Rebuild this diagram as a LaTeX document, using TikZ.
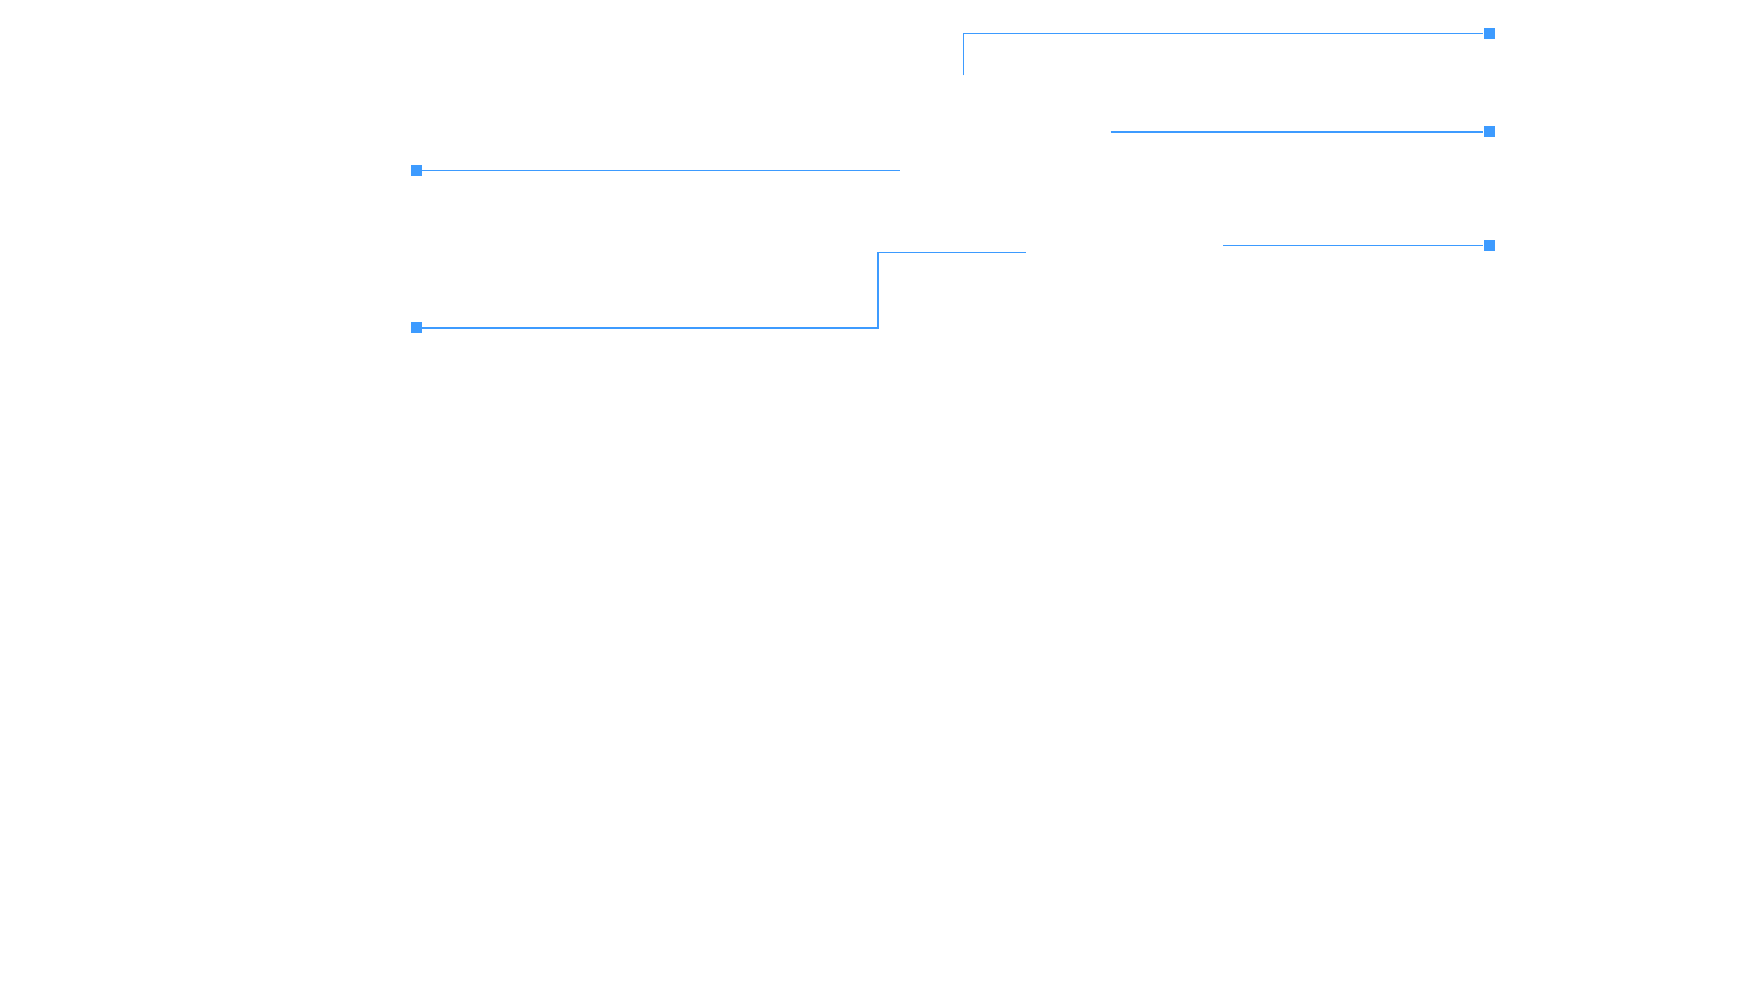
\documentclass[tikz,border=0pt]{standalone}
\definecolor{lineblue}{HTML}{3D9BFF}
\begin{document}
\begin{tikzpicture}[x=0.5pt,y=-0.5pt]
  \useasboundingbox (0,0) rectangle (1753,1000);
  \tikzset{leader/.style={draw=lineblue,line width=0.75pt},
    sqmark/.style={fill=lineblue,minimum size=5.5pt,inner sep=0pt}}
  % end squares
  \node[sqmark] (r1) at (1489,33.5) {};
  \node[sqmark] (r2) at (1489,132) {};
  \node[sqmark] (r3) at (1489,245.5) {};
  \node[sqmark] (l1) at (416.5,170.5) {};
  \node[sqmark] (l2) at (416.5,328) {};
  % free ends
  \coordinate (a1) at (963.5,75.5);
  \coordinate (a2) at (1110.5,132);
  \coordinate (a3) at (1223,245.5);
  \coordinate (b1) at (900,170.5);
  \coordinate (b2) at (1026,252.5);
  \draw[leader] (a1) |- (r1);
  \draw[leader] (a2) -- (r2);
  \draw[leader] (a3) -- (r3);
  \draw[leader] (l1) -- (b1);
  \draw[leader] (l2) -- (878,328) |- (b2);
\end{tikzpicture}
\end{document}
